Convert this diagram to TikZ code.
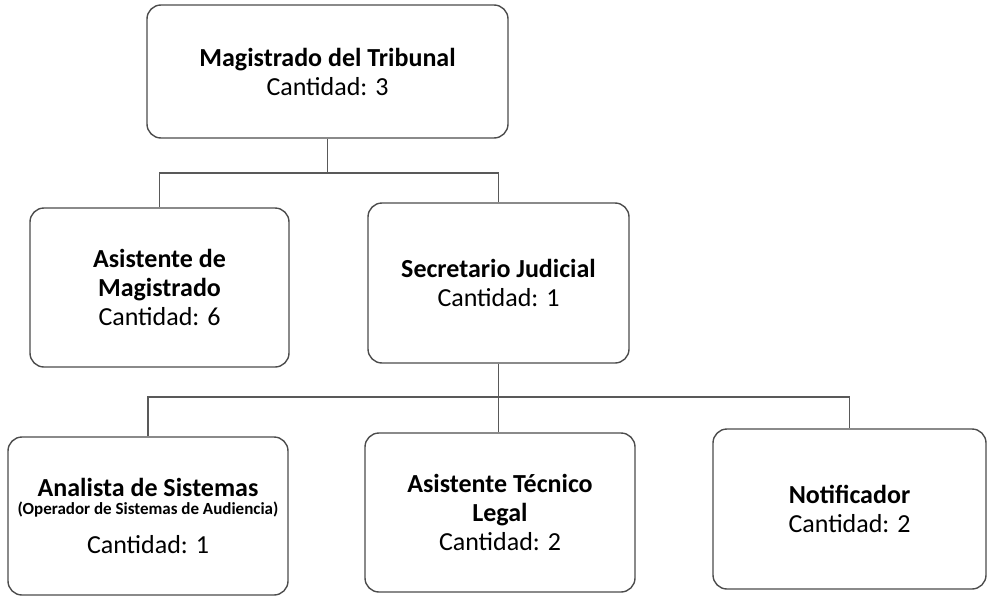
\documentclass[tikz,border=0pt]{standalone}
\usepackage{fontspec}
\setmainfont{Carlito}
\begin{document}
\begin{tikzpicture}[x=1pt,y=-1pt,
	caja/.style={draw=black!70,line width=1.4pt,rounded corners=14pt,align=center,inner sep=0pt,
		font=\fontsize{26}{29}\selectfont},
	linea/.style={draw=black!65,line width=1.4pt}]
			\def\chico{\fontsize{17}{20}\selectfont} % texto de la aclaracion
			\useasboundingbox (0,0) rectangle (988,597);
			\node[caja,minimum width=361pt,minimum height=133pt] (mag) at (327.5,71.5) {\textbf{Magistrado del Tribunal}\\Cantidad: 3};
			\node[caja,minimum width=259pt,minimum height=159pt] (asis) at (159.5,287.5) {\textbf{Asistente de}\\\textbf{Magistrado}\\Cantidad: 6};
			\node[caja,minimum width=261pt,minimum height=160pt] (sec) at (498.5,283) {\textbf{Secretario Judicial}\\Cantidad: 1};
			\node[caja,minimum width=280pt,minimum height=158pt] (ana) at (148,516) {\textbf{Analista de Sistemas}\\[-11pt]{\chico\textbf{(Operador de Sistemas de Audiencia)}}\\[10pt]Cantidad: 1};
			\node[caja,minimum width=270pt,minimum height=159pt] (tec) at (500,512.5) {\textbf{Asistente Técnico}\\\textbf{Legal}\\Cantidad: 2};
			\node[caja,minimum width=273pt,minimum height=160pt] (noti) at (849.5,509) {\textbf{Notificador}\\Cantidad: 2};
			\coordinate (j1) at (327.5,173);
			\coordinate (j2) at (498.5,397);
			\draw[linea] (mag.south) -- (j1);
			\draw[linea] (asis.north) |- (j1) -| (sec.north);
			\draw[linea] (sec.south) -- (j2);
			\draw[linea] (ana.north) |- (j2) -| (noti.north);
			\draw[linea] (j2) -- (j2 |- tec.north);
	\end{tikzpicture}
\end{document}
